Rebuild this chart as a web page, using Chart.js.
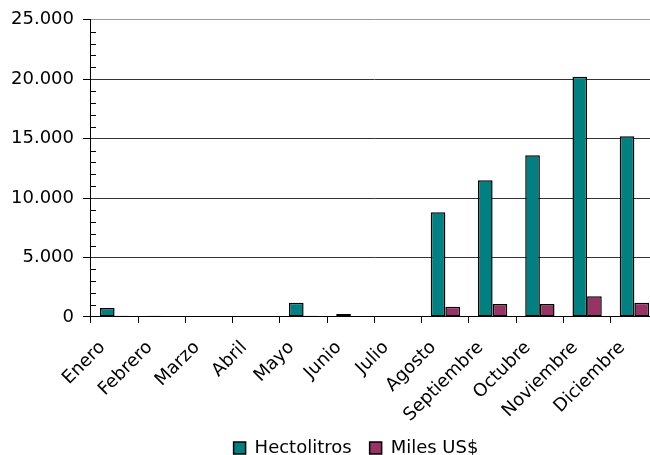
<!DOCTYPE html>
<html><head><meta charset="utf-8">
<script src="https://cdn.jsdelivr.net/npm/chart.js@4"></script>
<style>html,body{margin:0;padding:0;overflow:hidden;background:#fff;width:650px;height:455px}canvas{display:block}</style>
</head><body>
<canvas id="c" width="658" height="474"></canvas>
<script>
const categories = ["Enero","Febrero","Marzo","Abril","Mayo","Junio","Julio","Agosto","Septiembre","Octubre","Noviembre","Diciembre"];
const hectolitros = [750, 100, 0, 0, 1200, 250, 0, 8800, 11500, 13600, 20200, 15200];
const milesUSD = [100, 0, 0, 0, 100, 0, 0, 870, 1100, 1100, 1750, 1200];
const yTickValues = [0, 5000, 10000, 15000, 20000, 25000];

function fmt(v){ return String(v).replace(/\B(?=(\d{3})+(?!\d))/g, '.'); }

const minorTicks = {
  id: 'minorTicks',
  afterDatasetsDraw(chart){
    const y = chart.scales.y, ctx = chart.ctx, left = chart.chartArea.left;
    ctx.save(); ctx.strokeStyle = '#000'; ctx.lineWidth = 1;
    for (let v = 1000; v < 25000; v += 1000) {
      if (v % 5000 === 0) continue;
      const p = Math.round(y.getPixelForValue(v)) + 0.5;
      ctx.beginPath(); ctx.moveTo(left, p); ctx.lineTo(left + 5, p); ctx.stroke();
    }
    ctx.restore();
  }
};

const legendShift = {
  id: 'legendShift',
  afterLayout(chart){
    const lg = chart.legend;
    if (lg) { lg.left += 26; lg.right += 26; lg.top -= 7; lg.bottom -= 7; }
  }
};

Chart.defaults.font.family = '"DejaVu Sans", Verdana, sans-serif';
Chart.defaults.color = '#000';

new Chart(document.getElementById('c'), {
  type: 'bar',
  data: {
    labels: categories,
    datasets: [
      {label: 'Hectolitros', data: hectolitros, backgroundColor: '#008080', borderColor: '#000', borderWidth: 1.5, borderSkipped: false, barPercentage: 1, categoryPercentage: 0.62},
      {label: 'Miles US$', data: milesUSD, backgroundColor: '#993366', borderColor: '#000', borderWidth: 1.5, borderSkipped: false, barPercentage: 1, categoryPercentage: 0.62}
    ]
  },
  options: {
    responsive: false,
    animation: false,
    layout: {padding: {left: 2, top: 14, right: 0, bottom: 0}},
    plugins: {
      tooltip: {enabled: false},
      legend: {
        position: 'bottom',
        labels: {font: {size: 18}, boxWidth: 12, boxHeight: 12, padding: 18, color: '#000', useBorderRadius: false}
      }
    },
    scales: {
      x: {
        grid: {display: true, drawOnChartArea: false, drawTicks: true, tickLength: 6, color: '#000', offset: true},
        border: {display: true, color: '#000', width: 1},
        ticks: {font: {size: 18}, maxRotation: 45, minRotation: 45, autoSkip: false, padding: 2,
                callback: function(v){ return this.getLabelForValue(v) + '   '; }}
      },
      y: {
        min: 0, max: 25000,
        afterBuildTicks(axis){ axis.ticks = yTickValues.map(v => ({value: v})); },
        grid: {
          color: c => (c.tick && c.tick.value === 25000) ? '#999' : '#333',
          tickColor: '#000', tickLength: 8
        },
        border: {display: true, color: '#000', width: 1},
        ticks: {font: {size: 18}, padding: 9, callback: v => fmt(v), autoSkip: false}
      }
    }
  },
  plugins: [minorTicks, legendShift]
});
</script>
</body></html>
